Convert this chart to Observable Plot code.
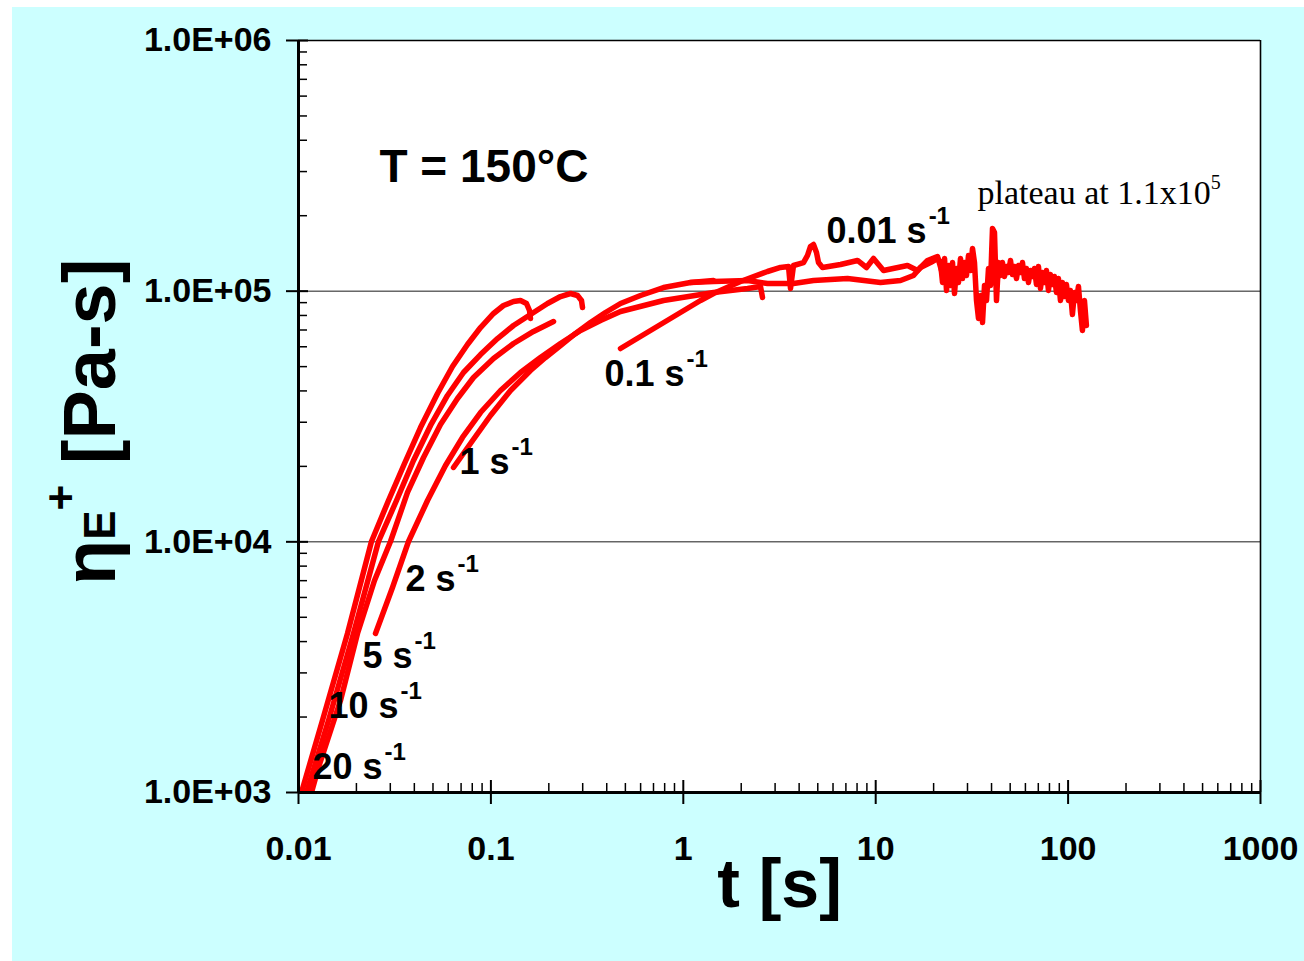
<!DOCTYPE html>
<html><head><meta charset="utf-8">
<script src="https://cdn.jsdelivr.net/npm/d3@7"></script>
<script src="https://cdn.jsdelivr.net/npm/@observablehq/plot@0.6"></script>
<style>
html,body{margin:0;padding:0;overflow:hidden;background:#fff;width:1304px;height:961px;}
#wrap{position:absolute;left:12px;top:7px;width:1292px;height:954px;background:#ccffff;}
</style></head><body><div id="wrap"></div>
<script>
// ---- data (t in s, eta in Pa-s) ----
const t_20 = [0.01036,0.01332,0.01797,0.02395,0.02936,0.03556,0.04306,0.05279,0.06316,0.07556,0.08833,0.1032,0.1163,0.1311,0.1425,0.1531,0.1587,0.1606];
const eta_20 = [1000,1937,4308,10030,14620,20530,28580,39060,50060,61260,71610,81460,87660,90940,91780,89300,83730,77800];

const t_10 = [0.01100,0.01432,0.01931,0.02604,0.03232,0.03960,0.04856,0.05948,0.07203,0.08833,0.1082,0.1311,0.1606,0.1969,0.2300,0.2592,0.2820,0.2957,0.2993];
const eta_10 = [1000,1937,4308,10030,14620,21110,29120,38360,47370,55880,64730,72950,80710,89300,95210,97880,96090,91780,86070];

const t_5 = [0.01168,0.01270,0.01653,0.02026,0.02483,0.03007,0.03686,0.04465,0.05470,0.06706,0.08120,0.1032,0.1311,0.1665,0.2116];
const eta_5 = [1000,1258,2328,4308,7011,10030,15740,21700,29390,37310,45240,53860,61830,69060,75680];

const t_2 = [0.02513,0.03080,0.03730,0.04683,0.05808,0.07117,0.08833,0.1122,0.1425,0.1810,0.2300,0.2922,0.3712,0.4717,0.7891,1.436,2.157,2.519,2.580];
const eta_2 = [4308,6573,10030,14620,20160,26080,32800,40150,47370,54360,61830,69670,76380,82960,91780,98790,102500,104400,94340];

const t_1 = [0.06392,0.07834,0.09952,0.1265,0.1606,0.1922,0.2300,0.2753,0.3293,0.3940,0.4717,0.5991,0.7891,1.090,1.436];
const eta_1 = [19800,24680,31920,40150,48250,54360,60700,67800,74990,82210,89300,96090,103400,108300,110300];

const t_01 = [0.4717,0.5991,0.7612,0.9670,1.229,1.436,1.983,2.739,3.201,3.523,3.608,3.740,4.215,4.422,4.583,4.750,4.923,5.043,5.290,6.561,8.045,8.959,9.741,10.98,14.63,16.50,18.59,20.95,22.51,23.62];
const eta_01 = [59060,65940,73620,82210,91780,97880,109300,119800,124300,125400,102500,126600,130100,138800,150800,153600,142700,130100,124300,127800,132600,124300,135000,120900,126600,120900,132600,137500,113400,107300];

const t_001 = [1.090,1.436,2.157,2.739,3.740,4.750,7.136,10.59,13.46,15.72,17.09,19.27,20.95,
  21.72,22.25,22.79,23.34,23.90,24.48,25.07,25.68,26.30,26.94,27.59,28.26,28.94,29.64,30.36,31.10,31.85,32.62,33.41,34.22,
  35.05,35.90,36.77,37.66,38.57,39.50,40.46,41.44,42.44,43.47,44.52,45.60,46.70,47.83,48.99,50.18,51.39,52.64,53.91,55.22,
  56.55,57.92,59.32,60.76,62.23,63.74,65.28,66.86,68.48,70.14,71.84,73.58,75.36,77.18,79.05,80.96,82.92,84.93,86.99,89.09,
  91.25,93.46,95.72,98.04,100.4,102.8,105.3,107.9,110.5,113.2,115.9,118.7,121.6,124.5];
const eta_001 = [108300,109300,110300,107300,107300,110300,112300,108300,110300,115500,124300,130100,135000,
  130100,108300,135000,100600,126600,105300,130100,97880,123100,108300,135000,112300,130100,115500,138800,120900,148000,130100,91780,77800,
  96090,74990,105300,91780,123100,105300,177800,171400,91780,130100,115500,130100,114400,125400,118700,132600,116500,125400,112300,126600,
  118700,130100,112300,123100,108300,120900,114400,123100,106300,125400,102500,118700,108300,120900,100600,116500,106300,114400,98790,112300,
  91780,108300,95210,106300,91780,100600,80710,98790,91780,104400,83730,69670,91780,72950];

const seriesNames = ["20","10","5","2","1","0.1","0.01"];
const seriesT = [t_20,t_10,t_5,t_2,t_1,t_01,t_001];
const seriesEta = [eta_20,eta_10,eta_5,eta_2,eta_1,eta_01,eta_001];

// labels
const rateLabels = ["20 s","10 s","5 s","2 s","1 s","0.1 s","0.01 s"];
const rateLabelT = [0.01183,0.01432,0.02151,0.03598,0.06867,0.3894,5.552];
const rateLabelEta = [1264,2214,3504,7106,20820,46720,173800];
const rateSup = "-1";

const tempLabel = "T = 150°C";
const tempLabelT = [0.02636], tempLabelEta = [311400];
const plateauLabel = "plateau at 1.1x10";
const plateauSup = "5";
const plateauT = [33.81], plateauEta = [246600];

const majorX = [0.01,0.1,1,10,100,1000];
const xTickLabels = ["0.01","0.1","1","10","100","1000"];
const majorY = [1e3,1e4,1e5,1e6];
const yTickLabels = ["1.0E+03","1.0E+04","1.0E+05","1.0E+06"];
const gridY = [1e4,1e5];
const xTitle = "t [s]";

const minorMult = [2,3,4,5,6,7,8,9];
const minorX = majorX.slice(0,-1).flatMap(d => minorMult.map(k => k*d));
const minorY = majorY.slice(0,-1).flatMap(d => minorMult.map(k => k*d));

const rows = seriesNames.flatMap((s,i) => seriesT[i].map((t,j) => ({series:s, t, eta: seriesEta[i][j]})));

const FONT = "'Liberation Sans', Arial, Helvetica, sans-serif";

const chart = Plot.plot({
  width: 1292, height: 954,
  marginLeft: 286, marginRight: 44, marginTop: 33, marginBottom: 169,
  style: {background: "transparent", color: "black", fontFamily: FONT},
  x: {type: "log", domain: [0.01, 1000]},
  y: {type: "log", domain: [1e3, 1e6]},
  marks: [
    Plot.frame({fill: "white", stroke: null}),
    Plot.ruleY(gridY, {stroke: "#1a1a1a", strokeWidth: 1}),
    Plot.line(rows, {x: "t", y: "eta", z: "series", stroke: "#ff0000", strokeWidth: 5.5,
      strokeLinejoin: "round", strokeLinecap: "round", clip: true}),
    Plot.ruleX([1000], {stroke: "black", strokeWidth: 1.6}),
    Plot.ruleY([1e6], {stroke: "black", strokeWidth: 1.6}),
    Plot.ruleX([0.01], {stroke: "black", strokeWidth: 3}),
    Plot.ruleY([1e3], {stroke: "black", strokeWidth: 3}),
    Plot.axisY(majorY, {anchor: "left", tickSize: 12, tickPadding: 15, strokeWidth: 2,
      tickFormat: d => yTickLabels[majorY.indexOf(d)], fontSize: 34, fontWeight: "bold", label: null}),
    Plot.axisY(majorY, {anchor: "left", tickSize: 10, dx: 10, strokeWidth: 2, tickFormat: () => "", label: null}),
    Plot.axisY(minorY, {anchor: "left", tickSize: 9, dx: 9, strokeWidth: 1.5, tickFormat: () => "", label: null}),
    Plot.axisX(majorX, {anchor: "bottom", tickSize: 12, tickPadding: 31, strokeWidth: 2,
      tickFormat: d => xTickLabels[majorX.indexOf(d)], fontSize: 34, fontWeight: "bold", label: null}),
    Plot.axisX(majorX, {anchor: "bottom", tickSize: 12, dy: -12, strokeWidth: 2, tickFormat: () => "", label: null}),
    Plot.axisX(minorX, {anchor: "bottom", tickSize: 9, dy: -9, strokeWidth: 1.5, tickFormat: () => "", label: null}),
    Plot.text(rateLabels, {x: rateLabelT, y: rateLabelEta, text: d => d, textAnchor: "start",
      fontSize: 36, fontWeight: "bold", fill: "black"}),
    Plot.text([tempLabel], {x: tempLabelT, y: tempLabelEta, text: d => d, textAnchor: "start",
      fontSize: 46, fontWeight: "bold", fill: "black"}),
    Plot.text([plateauLabel], {x: plateauT, y: plateauEta, text: d => d, textAnchor: "start",
      fontSize: 34, fontFamily: "'Liberation Serif', 'Times New Roman', serif", fill: "black"}),
    Plot.text([xTitle], {frameAnchor: "bottom", dy: 114, text: d => d, fontSize: 68, fontWeight: "bold", fill: "black"})
  ]
});

document.getElementById("wrap").appendChild(chart);

const svg = d3.select(chart);
svg.selectAll("text").filter(function() { return rateLabels.includes(this.textContent); })
  .append("tspan").attr("dx", 2).attr("dy", -19).attr("font-size", 24).text(rateSup);
svg.selectAll("text").filter(function() { return this.textContent === plateauLabel; })
  .append("tspan").attr("dy", -15).attr("font-size", 20).text(plateauSup);

// y-axis title
const yt = svg.append("text")
  .attr("transform", "translate(103,578) rotate(-90)")
  .attr("font-family", FONT).attr("font-weight", "bold").attr("font-size", 74)
  .attr("fill", "black").attr("text-anchor", "start");
yt.append("tspan").text("η");
yt.append("tspan").attr("font-size", 44).text("E");
yt.append("tspan").attr("font-size", 44).attr("dy", -39).text("+");
yt.append("tspan").attr("font-size", 74).attr("dy", 39).text(" [Pa-s]");
</script></body></html>
